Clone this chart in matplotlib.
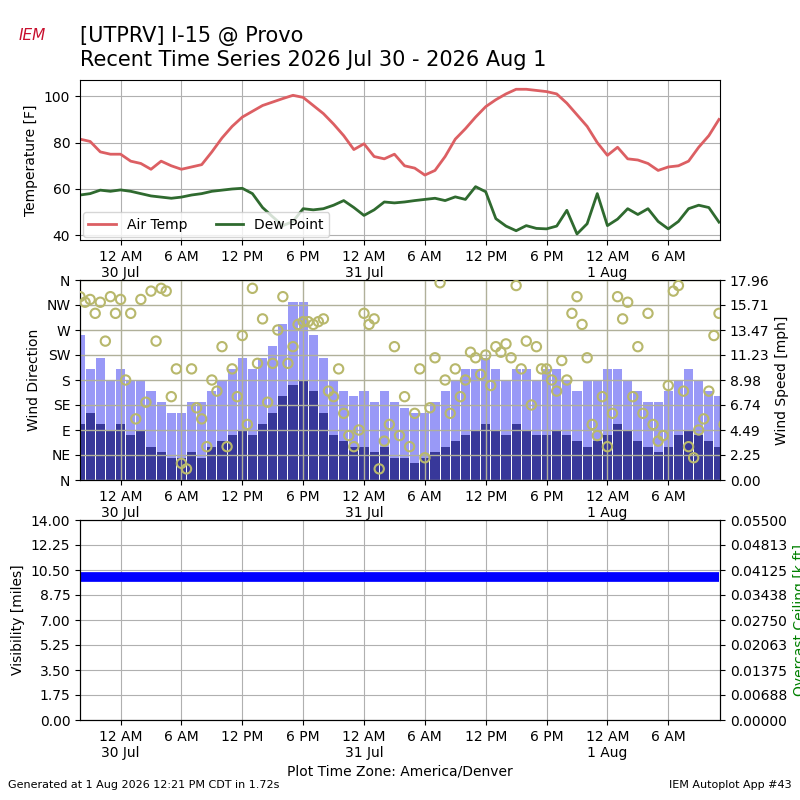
import numpy as np
import matplotlib
matplotlib.use("Agg")
from matplotlib import pyplot as plt

# hours relative to 12 AM 30 Jul (America/Denver)
hours = np.arange(-4, 60)
temp = [81.5, 80.5, 76, 75,
        75, 72, 71, 68.5, 72, 70,
        68.5, 69.5, 70.5, 76, 82, 87,
        91, 93.5, 96, 97.5, 99, 100.4,
        99.5, 96, 92.5, 88, 83, 77,
        79.5, 74, 73, 75, 70, 69,
        66, 68, 74, 81.5, 86, 91,
        95.5, 98.5, 101, 103, 103, 102.5,
        102, 101, 97, 92, 87, 80,
        74.5, 78, 73, 72.5, 71, 68,
        69.5, 70, 72, 78, 83, 90]
dewp = [57.4, 58, 59.5, 59,
        59.6, 59, 58, 57, 56.5, 56,
        56.5, 57.4, 58, 59, 59.5, 60,
        60.3, 58, 52, 48, 44.2, 46,
        51.5, 51, 51.5, 53, 55, 52,
        48.6, 51, 54.4, 54, 54.4, 55,
        55.5, 56, 55, 56.6, 55.5, 61,
        58.8, 47.2, 44, 42, 44.2, 43,
        42.8, 44, 50.8, 40.6, 45, 58,
        44.2, 47, 51.5, 49, 51.5, 46,
        42.8, 46, 51.5, 53, 52, 45.7]
sknt = [5, 6, 5, 4.5,
        5, 4, 4.5, 3, 2.5, 2,
        2, 2.5, 2, 3, 3.5, 4,
        4.5, 4, 5, 6, 7.5, 8.5,
        9, 8, 6, 4, 3.5, 3,
        3, 2.5, 3, 2, 2, 1.5,
        2, 2.5, 3, 3.5, 4, 4.5,
        5, 4.5, 4, 5, 4.5, 4,
        4, 4.5, 4, 3.5, 3, 3.5,
        4, 5, 4.5, 3.5, 3, 2.5,
        3, 4, 4.5, 4, 3.5, 3]
gust = [13, 10, 11, 9,
        10, 9, 9, 8, 7, 6,
        6, 7, 7, 8, 9, 10,
        11, 10, 11, 12, 14, 16,
        16, 13, 11, 9, 8, 7.5,
        8, 7, 8, 7, 6.5, 6,
        6, 7, 8, 9, 10, 10,
        11, 10, 9, 10, 10, 9,
        10, 10, 9, 8, 9, 9,
        10, 10, 9, 8, 7, 7,
        8, 9, 10, 9, 8, 7.5]
drct_a = [330, 325, 320, 330,
          325, 300, 325, 340, 345, 150,
          30, 200, 110, 180, 240, 200,
          260, 345, 290, 210, 330, 240,
          285, 280, 290, 150, 120, 60,
          300, 290, 70, 240, 150, 120,
          40, 220, 180, 200, 180, 220,
          225, 240, 245, 350, 250, 240,
          200, 160, 180, 330, 220, 80,
          60, 330, 320, 240, 300, 70,
          170, 350, 60, 90, 160, 300]
drct_b = [320, 300, 250, 300,
          180, 110, 140, 250, 340, 200,
          20, 130, 60, 160, 60, 150,
          100, 210, 140, 270, 210, 280,
          285, 285, 160, 200, 80, 90,
          280, 20, 100, 80, 60, 200,
          130, 355, 120, 150, 230, 190,
          170, 230, 220, 200, 135, 200,
          180, 215, 300, 280, 100, 150,
          120, 290, 150, 120, 100, 80,
          340, 160, 40, 110, 260, 100]
vsby = [10.0] * len(hours)

tick_hours = [0, 6, 12, 18, 24, 30, 36, 42, 48, 54]
tick_labels = ["12 AM\n30 Jul", "6 AM", "12 PM", "6 PM", "12 AM\n31 Jul",
               "6 AM", "12 PM", "6 PM", "12 AM\n1 Aug", "6 AM"]
xlim = (-4.0, 59.1)

fig = plt.figure(figsize=(8, 8), dpi=100)
fig.text(0.1, 0.955, "[UTPRV] I-15 @ Provo", fontsize=15, va="center")
fig.text(0.1, 0.925, "Recent Time Series 2026 Jul 30 - 2026 Aug 1", fontsize=15, va="center")
fig.text(0.04, 0.955, "IEM", fontsize=11, color="#c8102e", style="italic",
         ha="center", va="center")
fig.text(0.5, 0.031, "Plot Time Zone: America/Denver", ha="center", fontsize=10)
fig.text(0.01, 0.015, "Generated at 1 Aug 2026 12:21 PM CDT in 1.72s", fontsize=8)
fig.text(0.99, 0.015, "IEM Autoplot App #43", fontsize=8, ha="right")

# temperature
ax1 = fig.add_axes([0.1, 0.7, 0.8, 0.2])
ax1.plot(hours, temp, color="#dc5f63", lw=2, label="Air Temp")
ax1.plot(hours, dewp, color="#2f6a2f", lw=2, label="Dew Point")
ax1.set_ylim(38, 107)
ax1.set_yticks([40, 60, 80, 100])
ax1.set_ylabel("Temperature [F]")
ax1.legend(loc="lower left", ncol=2, borderaxespad=0.2)

# wind
ax2 = fig.add_axes([0.1, 0.4, 0.8, 0.25])
ax2b = ax2.twinx()
ax2.set_zorder(ax2b.get_zorder() + 1)
ax2.patch.set_visible(False)
ax2b.bar(hours, gust, width=0.9, color="#9999f7", zorder=2)
ax2b.bar(hours, sknt, width=0.9, color="#38389a", zorder=3)
ax2b.set_ylim(0, 17.96)
ax2b.set_yticks(np.linspace(0, 17.96, 9))
ax2b.set_yticklabels(["%.2f" % v for v in np.linspace(0, 17.96, 9)])
ax2b.set_ylabel("Wind Speed [mph]")
ax2.scatter(hours, drct_a, s=45, facecolors="none", edgecolors="#b8b86c", lw=1.5, zorder=5)
ax2.scatter(hours + 0.5, drct_b, s=45, facecolors="none", edgecolors="#b8b86c", lw=1.5, zorder=5)
ax2.set_ylim(0, 360)
ax2.set_yticks(range(0, 361, 45))
ax2.set_yticklabels(["N", "NE", "E", "SE", "S", "SW", "W", "NW", "N"])
ax2.set_ylabel("Wind Direction")
ax2.grid(True, color="#b0b09a", lw=1)

# visibility
ax3 = fig.add_axes([0.1, 0.1, 0.8, 0.25])
ax3.plot(hours, vsby, color="blue", lw=7, solid_capstyle="butt")
ax3.set_ylim(0, 14)
ax3.set_yticks(np.arange(0, 14.01, 1.75))
ax3.set_yticklabels(["%.2f" % v for v in np.arange(0, 14.01, 1.75)])
ax3.set_ylabel("Visibility [miles]")
ax3b = ax3.twinx()
ax3b.set_ylim(0, 0.055)
ax3b.set_yticks(np.linspace(0, 0.055, 9))
ax3b.set_yticklabels(["%.5f" % v for v in np.linspace(0, 0.055, 9)])
ax3b.set_ylabel("Overcast Ceiling [k ft]", color="green")

for ax in (ax1, ax2, ax3):
    ax.set_xlim(*xlim)
    ax.set_xticks(tick_hours)
    ax.set_xticklabels(tick_labels)
    if ax is not ax2:
        ax.grid(True, color="#b0b0b0")

fig.savefig("out.png")
